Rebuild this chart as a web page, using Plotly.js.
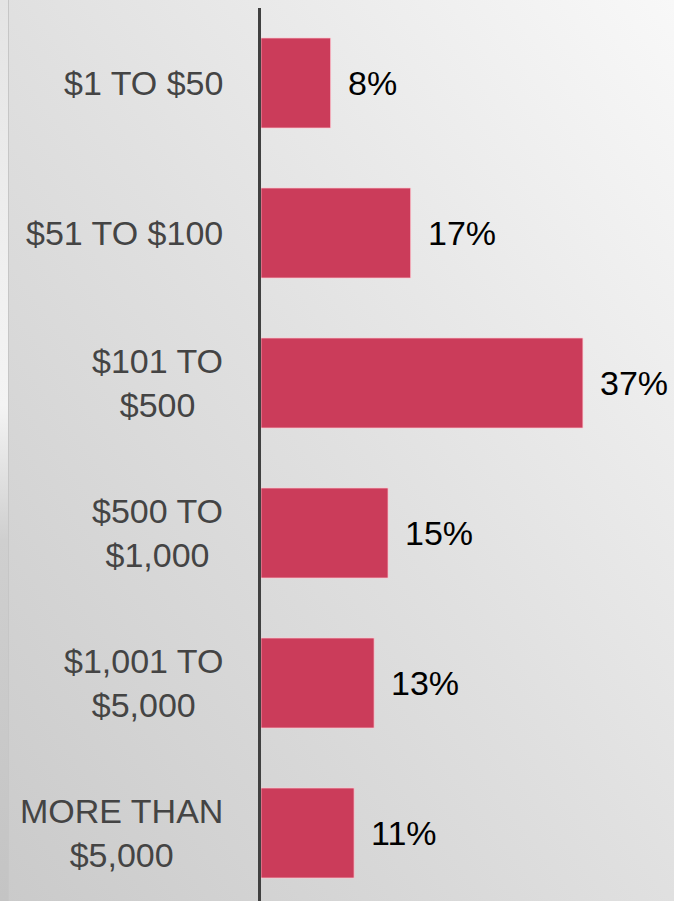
<!DOCTYPE html>
<html>
<head>
<meta charset="utf-8">
<script src="https://cdn.plot.ly/plotly-3.0.1.min.js"></script>
<style>
  html, body { margin: 0; padding: 0; width: 674px; height: 901px; overflow: hidden; }
  body { background: linear-gradient(to bottom left, #f8f8f8 0%, #e0e0e0 50%, #cacaca 100%); position: relative; }
  #strip { position: absolute; left: 0; top: 0; width: 8px; height: 901px;
    background: linear-gradient(to bottom, #e4e4e4 0%, #f0f0f0 30%, #f4f4f4 45%, #cfcfcf 60%, #c4c4c4 100%);
    border-right: 1px solid #c6c6c6; }
  #chart { position: absolute; left: 0; top: 0; width: 674px; height: 901px; }
</style>
</head>
<body>
<div id="strip"></div>
<div id="chart"></div>
<script>
const categories = ["$1 TO $50", "$51 TO $100", "$101 TO<br>$500", "$500 TO<br>$1,000", "$1,001 TO<br>$5,000", "MORE THAN<br>$5,000"];
const values = [8.0, 17.2, 37.0, 14.6, 13.0, 10.7];
const valueLabels = ["8%", "17%", "37%", "15%", "13%", "11%"];

const barColor = "#CB3C5A";
const fontFamily = "Liberation Sans, Arial, sans-serif";

const trace = {
  type: "bar",
  orientation: "h",
  y: categories,
  x: values,
  width: 0.6,
  marker: { color: barColor, line: { color: "rgba(255,200,210,0.7)", width: 1 } },
  hoverinfo: "none"
};

const valueAnnotations = values.map((v, i) => ({
  x: v, y: categories[i], xref: "x", yref: "y",
  text: valueLabels[i], showarrow: false,
  xanchor: "left", yanchor: "middle", xshift: 15,
  font: { family: fontFamily, size: 34, color: "#000000" }
}));

const categoryAnnotations = categories.map((c) => ({
  x: 0, y: c, xref: "x", yref: "y",
  text: c, showarrow: false, align: "center",
  xanchor: "right", yanchor: "middle", xshift: -36,
  font: { family: fontFamily, size: 34, color: "#444444" }
}));

const pxPerUnit = 8.7;
const leftMargin = 261;

const layout = {
  width: 674, height: 901,
  margin: { l: leftMargin, r: 0, t: 8, b: 0 },
  paper_bgcolor: "rgba(0,0,0,0)",
  plot_bgcolor: "rgba(0,0,0,0)",
  showlegend: false,
  xaxis: { range: [0, (674 - leftMargin) / pxPerUnit], visible: false, fixedrange: true },
  yaxis: {
    type: "category",
    categoryorder: "array",
    categoryarray: categories,
    range: [5.4533, -0.5],
    showline: true, linecolor: "#404040", linewidth: 3,
    showgrid: false, zeroline: false,
    ticks: "", showticklabels: false
  },
  annotations: categoryAnnotations.concat(valueAnnotations)
};

Plotly.newPlot("chart", [trace], layout, { displayModeBar: false, staticPlot: true });
</script>
</body>
</html>
